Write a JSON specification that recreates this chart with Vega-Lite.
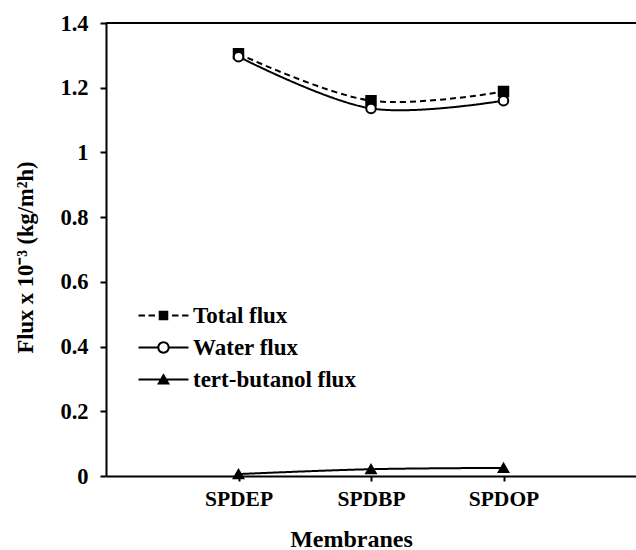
{
  "$schema": "https://vega.github.io/schema/vega-lite/v6.json",
  "autosize": {"type": "none"},
  "width": 530,
  "height": 453,
  "padding": {"left": 106, "top": 23, "right": 0, "bottom": 74},
  "background": "white",
  "config": {
    "view": {"stroke": null},
    "font": "Liberation Serif",
    "axis": {
      "domainColor": "black",
      "domainWidth": 2,
      "tickColor": "black",
      "tickWidth": 2,
      "labelColor": "black",
      "labelFont": "Liberation Serif",
      "labelFontWeight": "bold",
      "titleColor": "black",
      "titleFont": "Liberation Serif",
      "titleFontWeight": "bold",
      "grid": false
    }
  },
  "data": {
    "values": [
      {"membrane": "SPDEP", "series": "Total flux", "flux": 1.305},
      {"membrane": "SPDBP", "series": "Total flux", "flux": 1.16},
      {"membrane": "SPDOP", "series": "Total flux", "flux": 1.188},
      {"membrane": "SPDEP", "series": "Water flux", "flux": 1.296},
      {"membrane": "SPDBP", "series": "Water flux", "flux": 1.136},
      {"membrane": "SPDOP", "series": "Water flux", "flux": 1.16},
      {"membrane": "SPDEP", "series": "tert-butanol flux", "flux": 0.006},
      {"membrane": "SPDBP", "series": "tert-butanol flux", "flux": 0.021},
      {"membrane": "SPDOP", "series": "tert-butanol flux", "flux": 0.025}
    ]
  },
  "encoding": {
    "x": {
      "field": "membrane",
      "type": "nominal",
      "sort": ["SPDEP", "SPDBP", "SPDOP"],
      "scale": {"type": "point", "padding": 1},
      "axis": {
        "title": "Membranes",
        "labelAngle": 0,
        "labelFontSize": 21.5,
        "labelBaseline": "alphabetic",
        "labelPadding": 24,
        "tickSize": 5,
        "titleFontSize": 24,
        "titleBaseline": "alphabetic",
        "titleAnchor": "middle",
        "titleX": 245,
        "titleY": 70
      }
    },
    "y": {
      "field": "flux",
      "type": "quantitative",
      "scale": {"domain": [0, 1.4], "nice": false, "zero": true},
      "axis": {
        "title": "Flux x 10⁻³ (kg/m²h)",
        "values": [0, 0.2, 0.4, 0.6, 0.8, 1, 1.2, 1.4],
        "format": ".1~f",
        "labelFontSize": 22.5,
        "labelPadding": 12,
        "tickSize": 6,
        "titleFontSize": 22.5,
        "titleAngle": -90,
        "titleBaseline": "middle",
        "titleAlign": "center",
        "titleX": -81,
        "titleY": 234
      }
    }
  },
  "layer": [
    {
      "mark": {"type": "rule", "color": "black", "strokeWidth": 2},
      "encoding": {"y": {"datum": 1.4}, "x": null}
    },
    {
      "mark": {"type": "line", "color": "black", "strokeWidth": 2, "interpolate": "catmull-rom"},
      "encoding": {
        "detail": {"field": "series"},
        "strokeDash": {
          "field": "series",
          "type": "nominal",
          "scale": {
            "domain": ["Total flux", "Water flux", "tert-butanol flux"],
            "range": [[6, 4], [1, 0], [1, 0]]
          },
          "legend": null
        }
      }
    },
    {
      "mark": {"type": "point", "filled": false, "stroke": "black", "strokeWidth": 2, "opacity": 1, "size": 90},
      "encoding": {
        "shape": {
          "field": "series",
          "type": "nominal",
          "scale": {
            "domain": ["Total flux", "Water flux", "tert-butanol flux"],
            "range": ["square", "circle", "triangle-up"]
          },
          "legend": null
        },
        "fill": {
          "field": "series",
          "type": "nominal",
          "scale": {
            "domain": ["Total flux", "Water flux", "tert-butanol flux"],
            "range": ["black", "white", "black"]
          },
          "legend": null
        }
      }
    },
    {
      "description": "Invisible copy of the series that carries the legend: each key is a filled outline of a line segment with the series marker on it.",
      "mark": {"type": "point", "filled": true, "color": "black", "opacity": 0, "size": 400},
      "encoding": {
        "shape": {
          "field": "series",
          "type": "nominal",
          "scale": {
            "domain": ["Total flux", "Water flux", "tert-butanol flux"],
            "range": [
              "M-2.5,-0.1L-1.85,-0.1L-1.85,0.1L-2.5,0.1ZM-1.5,-0.1L-0.85,-0.1L-0.85,0.1L-1.5,0.1ZM-0.48,-0.48L0.48,-0.48L0.48,0.48L-0.48,0.48ZM0.85,-0.1L1.5,-0.1L1.5,0.1L0.85,0.1ZM1.85,-0.1L2.5,-0.1L2.5,0.1L1.85,0.1Z",
              "M-2.5,-0.1L-0.5,-0.1L-0.5,0.1L-2.5,0.1ZM0.5,-0.1L2.5,-0.1L2.5,0.1L0.5,0.1ZM-0.62,0A0.62,0.62,0,1,1,0.62,0A0.62,0.62,0,1,1,-0.62,0ZM-0.42,0A0.42,0.42,0,1,0,0.42,0A0.42,0.42,0,1,0,-0.42,0Z",
              "M-2.5,-0.1L2.5,-0.1L2.5,0.1L-2.5,0.1ZM-0.65,0.5L0,-0.62L0.65,0.5Z"
            ]
          },
          "legend": {
            "orient": "none",
            "legendX": 46,
            "legendY": 281,
            "direction": "vertical",
            "title": null,
            "padding": 0,
            "symbolSize": 400,
            "symbolOpacity": 1,
            "symbolFillColor": "black",
            "symbolStrokeColor": "transparent",
            "symbolStrokeWidth": 0,
            "labelFont": "Liberation Serif",
            "labelFontSize": 23,
            "labelFontWeight": "bold",
            "labelColor": "black",
            "labelLimit": 0,
            "labelOffset": 18,
            "rowPadding": 8
          }
        }
      }
    }
  ],
  "resolve": {"scale": {"shape": "independent"}}
}
